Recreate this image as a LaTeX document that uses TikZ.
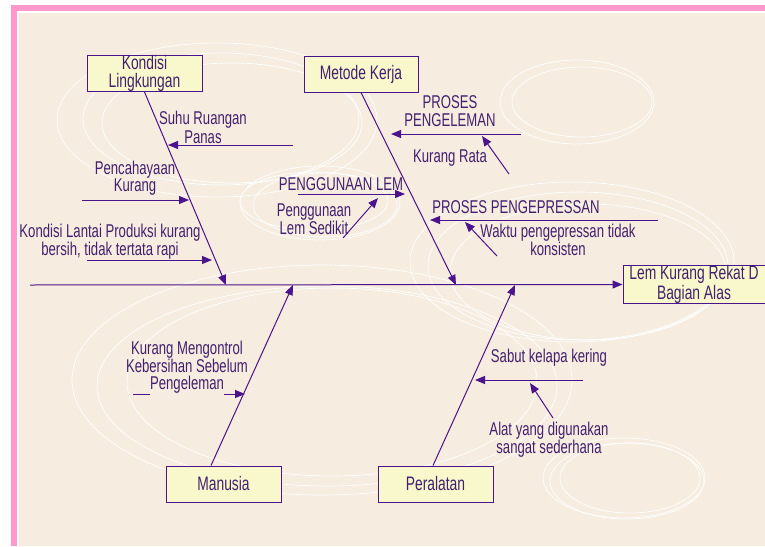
\documentclass[tikz,border=0pt]{standalone}
\usepackage{fontspec}
\setmainfont[FakeStretch=0.71]{Liberation Sans}
\usetikzlibrary{arrows.meta}

\definecolor{bgc}{HTML}{F6ECDF}
\definecolor{pinkc}{HTML}{FF99CC}
\definecolor{boxc}{HTML}{F8F8CC}
\definecolor{linec}{HTML}{4A148C}
\definecolor{textc}{HTML}{42206E}
\newcommand{\lblfont}{\fontsize{18.5}{17}\selectfont}
\newcommand{\boxfont}{\fontsize{19.5}{17.5}\selectfont}
\setlength{\fboxsep}{0.5pt}

\begin{document}
\begin{tikzpicture}[x=1pt,y=-1pt,
  causebox/.style={draw=linec, fill=boxc, line width=1pt, minimum width=115pt,
    minimum height=36pt, inner sep=0pt, text=textc, align=center, font=\boxfont},
  lbl/.style={text=textc, align=center, inner sep=0pt, font=\lblfont},
  bone/.style={draw=linec, line width=1pt, -{Triangle[length=10pt,width=8pt]}},
  deco/.style={draw=white, line width=0.7pt}]
				\useasboundingbox (0,0) rectangle (765,546);
				
				% Draw the frame
				\fill[white] (0,0) rectangle (765,546);
				\fill[pinkc] (11,5) rectangle (765,11);
				\fill[pinkc] (11,5) rectangle (17,546);
				\fill[bgc] (19,13) rectangle (765,546);
				
				% Draw the white rings behind the diagram
				\begin{scope}
					\clip (19,13) rectangle (765,546);
					\draw[deco] (217,120) ellipse (160pt and 77pt);
					\draw[deco] (221,119) ellipse (138pt and 66pt);
					\draw[deco] (232,123) ellipse (130pt and 60pt);
					\draw[deco] (320,203) ellipse (80pt and 37pt);
					\draw[deco] (325,205) ellipse (72pt and 32pt);
					\draw[deco] (314,201) ellipse (74pt and 29pt);
					\draw[deco] (577,102) ellipse (77pt and 42pt);
					\draw[deco] (582,102) ellipse (70pt and 35pt);
					\draw[deco] (572,262) ellipse (162pt and 80pt);
					\draw[deco] (578,266) ellipse (150pt and 74pt);
					\draw[deco] (588,272) ellipse (138pt and 68pt);
					\draw[deco] (322,380) ellipse (250pt and 115pt);
					\draw[deco] (327,386) ellipse (230pt and 100pt);
					\draw[deco] (332,382) ellipse (205pt and 94pt);
					\draw[deco] (624,478) ellipse (81pt and 40pt);
					\draw[deco] (630,478) ellipse (70pt and 35pt);
					\draw[deco] (627,481) ellipse (77pt and 38pt);
				\end{scope}
				
				% Draw the cause boxes and the effect box
				\node[causebox] (kondisi) at (144.5,73.5) {Kondisi\\Lingkungan};
				\node[causebox, minimum width=114pt] (metode) at (361,74) {Metode Kerja};
				\node[causebox] (manusia) at (223.5,484) {Manusia};
				\node[causebox] (peralatan) at (435.5,484) {Peralatan};
				\node[causebox, minimum width=142pt, minimum height=37pt] (effect) at (694,284.5) {Lem Kurang Rekat D\\Bagian Alas};
				
				% Spine and main bones
				\coordinate (tail) at (30,285);
				\coordinate (jK) at (226,285);
				\coordinate (jM) at (456,285);
				\coordinate (jH) at (293,285);
				\coordinate (jP) at (515,285);
				\draw[bone] (tail) -- (effect.west);
				\draw[bone] (kondisi.south) -- (jK);
				\draw[bone] (metode.south) -- (jM);
				\draw[bone] ([xshift=-12.5pt]manusia.north) -- (jH);
				\draw[bone] ([xshift=-2.5pt]peralatan.north) -- (jP);
				
				% Sub-causes of Kondisi Lingkungan
				\coordinate (suhuA) at (293,145);
				\coordinate (suhuB) at (168,145);
				\coordinate (cahayaA) at (82,200);
				\coordinate (cahayaB) at (189,200);
				\coordinate (lantaiA) at (87,260);
				\coordinate (lantaiB) at (212,260);
				\draw[bone] (suhuA) -- (suhuB);
				\draw[bone] (cahayaA) -- (cahayaB);
				\draw[bone] (lantaiA) -- (lantaiB);
				\node[lbl, font=\fontsize{18.5}{19}\selectfont] (suhu) at (203,127) {Suhu Ruangan\\Panas};
				\node[lbl, font=\fontsize{18.5}{16.5}\selectfont] (cahaya) at (135,178) {Pencahayaan\\Kurang};
				\node[lbl] (lantai) at (110,242) {Kondisi Lantai Produksi kurang\\bersih, tidak tertata rapi};
				
				% Sub-causes of Metode Kerja
				\coordinate (lemA) at (521,134);
				\coordinate (lemB) at (391,134);
				\coordinate (rataA) at (509,174);
				\coordinate (rataB) at (482,136);
				\coordinate (gunaA) at (298,194);
				\coordinate (gunaB) at (405,194);
				\coordinate (dikitA) at (343,238);
				\coordinate (dikitB) at (378,198);
				\coordinate (presA) at (658,220);
				\coordinate (presB) at (430,220);
				\coordinate (waktuA) at (497,256);
				\coordinate (waktuB) at (465,222);
				\draw[bone] (lemA) -- (lemB);
				\draw[bone] (rataA) -- (rataB);
				\draw[bone] (gunaA) -- (gunaB);
				\draw[bone] (dikitA) -- (dikitB);
				\draw[bone] (presA) -- (presB);
				\draw[bone] (waktuA) -- (waktuB);
				\node[lbl, font=\fontsize{18.5}{17.5}\selectfont] (pengeleman) at (450,111) {PROSES\\PENGELEMAN};
				\node[lbl] (rata) at (450,158) {Kurang Rata};
				\node[lbl] (guna) at (341,184) {PENGGUNAAN LEM};
				\node[lbl, font=\fontsize{18.5}{16.5}\selectfont] (dikit) at (314,219) {Penggunaan\\Lem Sedikit};
				\node[lbl] (pres) at (516,207) {PROSES PENGEPRESSAN};
				\node[lbl] (waktu) at (558,240) {Waktu pengepressan tidak\\konsisten};
				
				% Sub-cause of Manusia
				\coordinate (kontrolA) at (133,394);
				\coordinate (kontrolB) at (245,394);
				\draw[bone] (kontrolA) -- (kontrolB);
				\node[lbl] (kontrol) at (187,368) {Kurang Mengontrol\\Kebersihan Sebelum\\\colorbox{bgc}{Pengeleman\rule[-4.5pt]{0pt}{4.5pt}}};
				
				% Sub-causes of Peralatan
				\coordinate (sabutA) at (583,380);
				\coordinate (sabutB) at (475,380);
				\coordinate (alatA) at (553,418);
				\coordinate (alatB) at (530,383);
				\draw[bone] (sabutA) -- (sabutB);
				\draw[bone] (alatA) -- (alatB);
				\node[lbl] (sabut) at (549,358) {Sabut kelapa kering};
				\node[lbl, font=\fontsize{18.5}{15.5}\selectfont] (alat) at (549,440) {Alat yang digunakan\\sangat sederhana};
			\end{tikzpicture}
\end{document}
